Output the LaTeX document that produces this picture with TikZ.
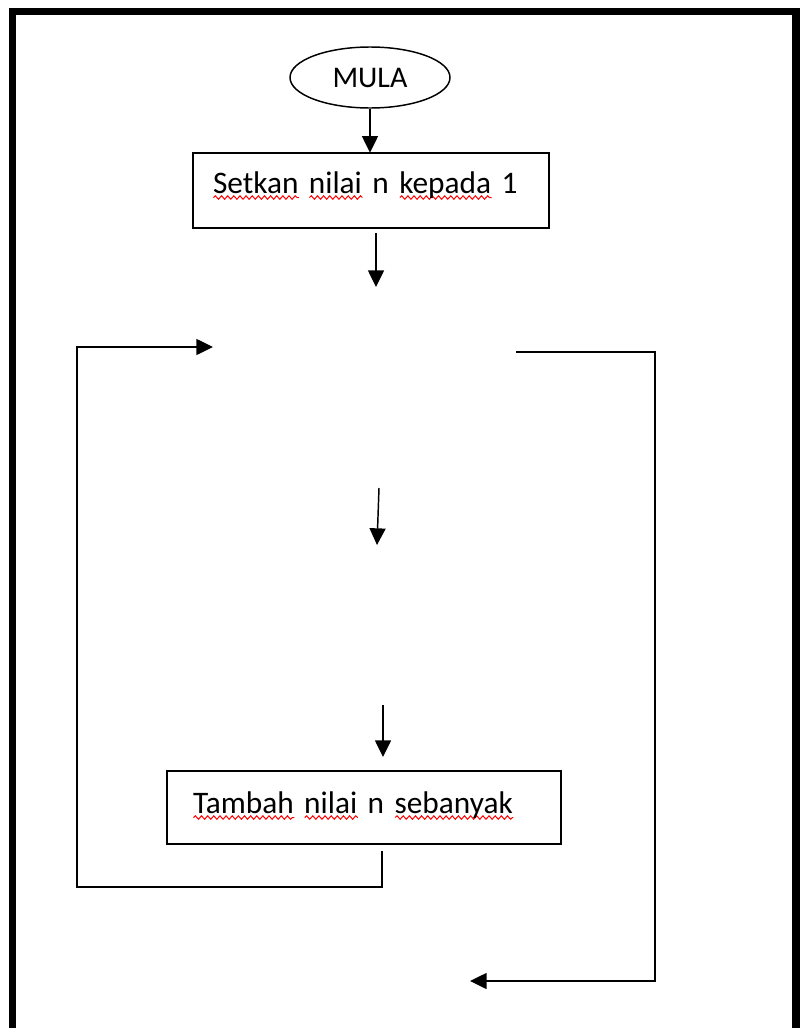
\documentclass[tikz,border=0pt]{standalone}
\usepackage{fontspec}
\setmainfont{Carlito}
\usetikzlibrary{arrows.meta,decorations.pathmorphing,shapes.geometric}
\newsavebox\wvbox
\newcommand\wavy[1]{\sbox\wvbox{#1}\rlap{\tikz[baseline=0pt]\draw[red,line width=0.75pt,decorate,decoration={snake,amplitude=1.3pt,segment length=4.6pt}] (0pt,-3.4pt) -- (\wd\wvbox,-3.4pt);}\usebox\wvbox}
\tikzset{
  flowbox/.style={draw, rectangle, inner ysep=0pt, align=left, font=\fontsize{23.5}{28}\selectfont},
  flowarrow/.style={-{Triangle[length=12.5pt,width=12pt]}},
}
\begin{document}
\begin{tikzpicture}[x=0.75pt,y=-0.75pt,line width=1.1pt]
\useasboundingbox (0,0) rectangle (800,1028);
\begin{scope}
  \clip (0,0) rectangle (800,1028);
  \draw[line width=5.6pt] (12.5,11.5) rectangle (796,1060);
\end{scope}

\node[ellipse, draw, minimum width=120pt, minimum height=45.75pt, inner sep=0pt, font=\fontsize{22.5}{26}\selectfont] (start) at (370,77.5) {MULA};

\node[flowbox, text width=237pt, inner xsep=15pt, text height=30pt, text depth=26.25pt] (set) at (371,190.5)
  {\wavy{Setkan} \wavy{nilai} n \wavy{kepada} 1};

\node[flowbox, text width=256.5pt, inner xsep=19.5pt, text height=31.5pt, text depth=23.25pt] (add) at (364,807.5)
  {\wavy{Tambah} \wavy{nilai} n \wavy{sebanyak}};

\coordinate (a1) at (376,233);
\coordinate (a1e) at (376,287);
\coordinate (m1) at (379,488);
\coordinate (m1e) at (377,545);
\coordinate (m2) at (383,705);
\coordinate (m2e) at (383,757);
\coordinate (l0) at (382,851);
\coordinate (lbot) at (77,887);
\coordinate (ltip) at (213,347);
\coordinate (r0) at (516,352);
\coordinate (rc) at (655,981);
\coordinate (rtip) at (470,981);

\draw[flowarrow] (start.south) -- (start.south |- set.north);
\draw[flowarrow] (a1) -- (a1e);
\draw[flowarrow] (m1) -- (m1e);
\draw[flowarrow] (m2) -- (m2e);
\draw[flowarrow] (l0) |- (lbot) |- (ltip);
\draw[flowarrow] (r0) -| (rc) -- (rtip);
\end{tikzpicture}
\end{document}
